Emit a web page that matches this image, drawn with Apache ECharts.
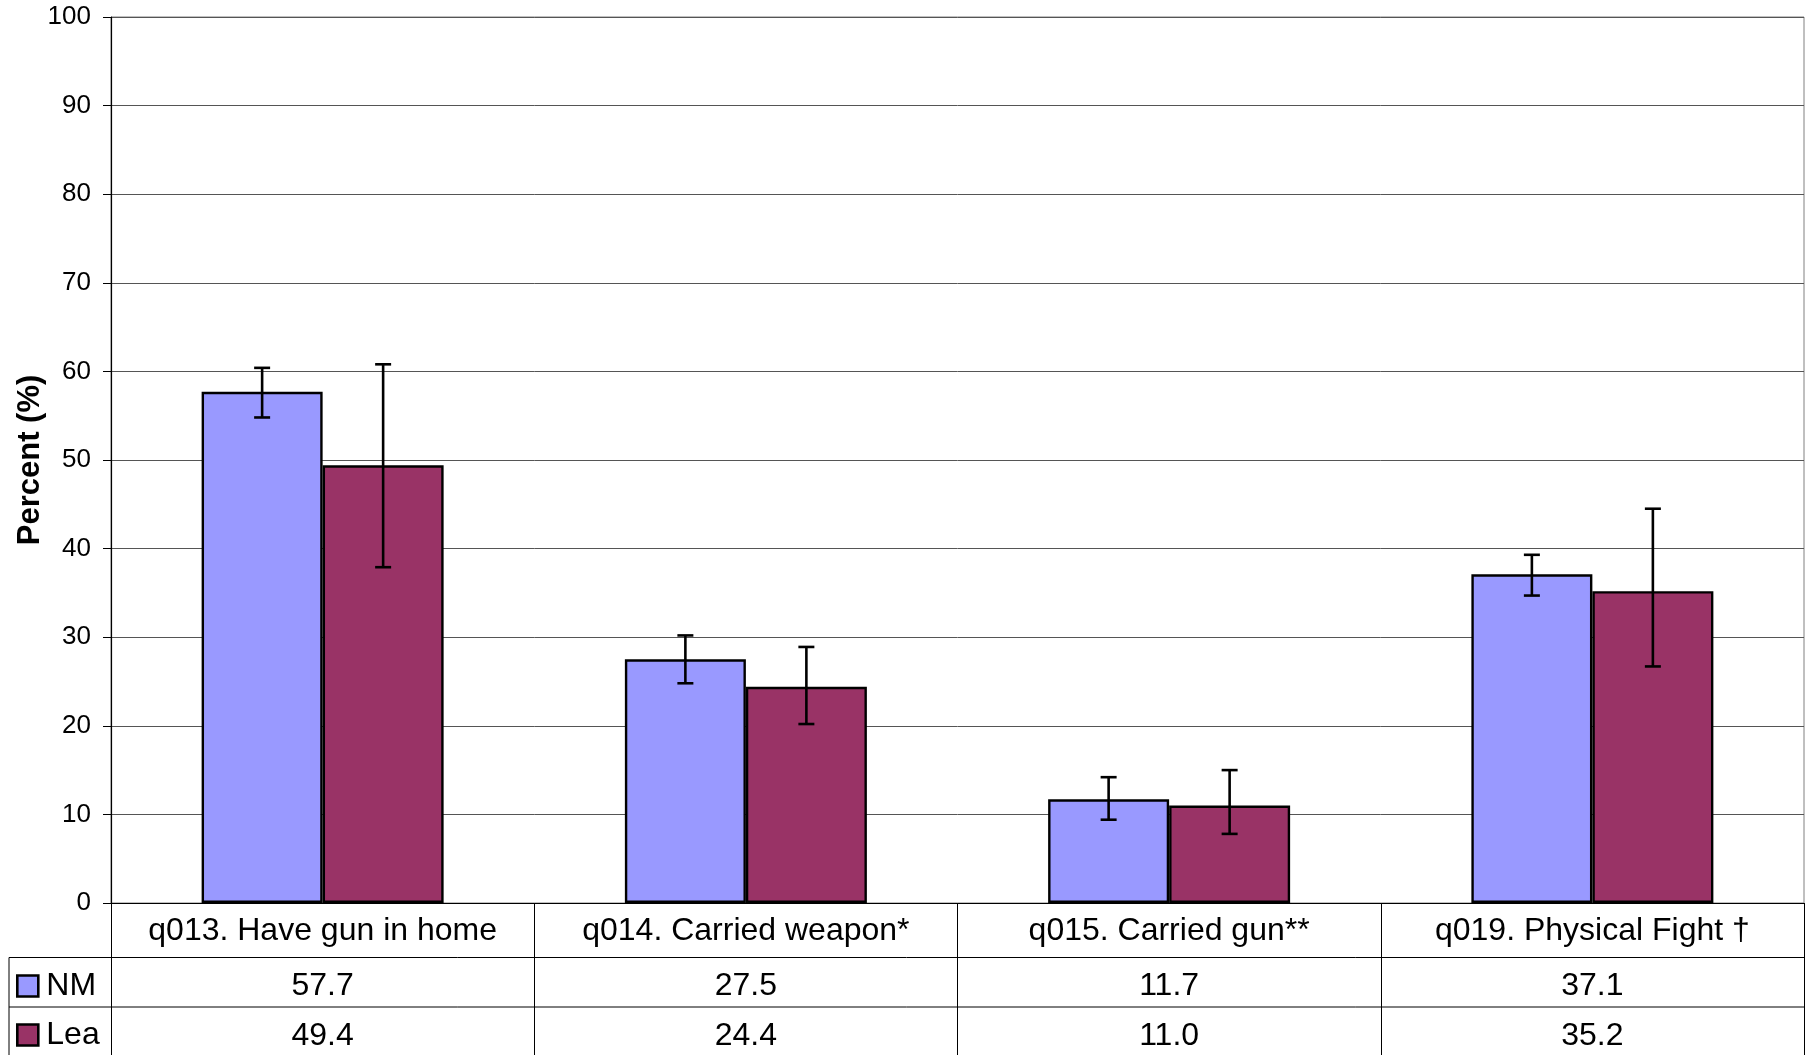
<!DOCTYPE html>
<html>
<head>
<meta charset="utf-8">
<script src="https://cdn.jsdelivr.net/npm/echarts@6/dist/echarts.min.js"></script>
<style>
html,body{margin:0;padding:0;background:#fff;}
#c{width:1811px;height:1055px;}
</style>
</head>
<body>
<div id="c"></div>
<script>
// ---- data ----
var categories = ['q013. Have gun in home', 'q014. Carried weapon*', 'q015. Carried gun**', 'q019. Physical Fight \u2020'];
var seriesNames = ['NM', 'Lea'];
var nmValues = [57.7, 27.5, 11.7, 37.1];
var leaValues = [49.4, 24.4, 11.0, 35.2];
var nmLow = [54.8, 24.8, 9.4, 34.7];
var nmHigh = [60.4, 30.2, 14.2, 39.3];
var leaLow = [37.9, 20.2, 7.8, 26.7];
var leaHigh = [60.8, 28.9, 15.0, 44.5];
var yTicks = [0, 10, 20, 30, 40, 50, 60, 70, 80, 90, 100];

// ---- layout / style ----
var FONT = "'Liberation Sans', Arial, sans-serif";
var W = 1811, H = 1055;
var G_LEFT = 111, G_RIGHT = 7, G_TOP = 17, G_BOTTOM = 152;
var BAR_W = 121;
var NM_COLOR = '#9999FF', LEA_COLOR = '#993366';
var ROW1_Y = 957.5, ROW2_Y = 1007, TABLE_LEFT = 9;
var TABLE_FONT = 32;

var chart = echarts.init(document.getElementById('c'), null, {renderer: 'canvas'});

function errRender(sign) {
  return function (params, api) {
    var idx = api.value(0);
    var lo = api.coord([idx, api.value(1)]);
    var hi = api.coord([idx, api.value(2)]);
    var x = lo[0] + sign * BAR_W / 2;
    var cap = 8;
    var st = {stroke: '#000', lineWidth: 2.6};
    return {
      type: 'group',
      children: [
        {type: 'line', shape: {x1: x, y1: lo[1], x2: x, y2: hi[1]}, style: st},
        {type: 'line', shape: {x1: x - cap, y1: lo[1], x2: x + cap, y2: lo[1]}, style: st},
        {type: 'line', shape: {x1: x - cap, y1: hi[1], x2: x + cap, y2: hi[1]}, style: st}
      ]
    };
  };
}

function errData(low, high) {
  return low.map(function (v, i) { return [i, v, high[i]]; });
}

function legendFor(name, top) {
  return {
    data: [name], orient: 'vertical', left: 16, top: top, padding: 0,
    itemWidth: 21, itemHeight: 21, itemGap: 6, icon: 'rect',
    itemStyle: {borderColor: '#000', borderWidth: 2.6},
    textStyle: {fontFamily: FONT, fontSize: 32, color: '#000', padding: [0, 0, 0, 3]},
    selectedMode: false
  };
}

var option = {
  backgroundColor: '#fff',
  animation: false,
  textStyle: {fontFamily: FONT, color: '#000'},
  grid: {
    left: G_LEFT, right: G_RIGHT, top: G_TOP, bottom: G_BOTTOM,
    outerBoundsMode: 'none', containLabel: false,
    show: true, borderColor: '#808080', borderWidth: 1, backgroundColor: '#fff'
  },
  legend: [legendFor(seriesNames[0], 970), legendFor(seriesNames[1], 1019)],
  xAxis: {
    type: 'category',
    data: categories,
    boundaryGap: true,
    axisLine: {show: true, lineStyle: {color: '#000', width: 1.2}},
    axisTick: {show: true, interval: 0, length: G_BOTTOM, lineStyle: {color: '#000', width: 1}},
    axisLabel: {
      interval: 0,
      margin: 1,
      color: '#000',
      fontFamily: FONT,
      hideOverlap: false,
      formatter: function (val, idx) {
        return '{c|' + val + '}\n{v1|' + nmValues[idx].toFixed(1) + '}\n{v2|' + leaValues[idx].toFixed(1) + '}';
      },
      rich: {
        c: {fontSize: TABLE_FONT, lineHeight: 54, fontFamily: FONT, color: '#000'},
        v1: {fontSize: TABLE_FONT, lineHeight: 56, fontFamily: FONT, color: '#000'},
        v2: {fontSize: TABLE_FONT, lineHeight: 44, fontFamily: FONT, color: '#000'}
      }
    },
    splitLine: {show: false}
  },
  yAxis: {
    type: 'value',
    min: yTicks[0], max: yTicks[yTicks.length - 1], interval: yTicks[1] - yTicks[0],
    name: 'Percent (%)',
    nameLocation: 'middle',
    nameGap: 65,
    nameMoveOverlap: false,
    nameTextStyle: {fontFamily: FONT, fontSize: 31, fontWeight: 'bold', color: '#000'},
    axisLine: {show: true, lineStyle: {color: '#000', width: 1.2}},
    axisTick: {show: true, length: 8, lineStyle: {color: '#000'}},
    axisLabel: {fontSize: 26, color: '#000', margin: 20, fontFamily: FONT},
    splitLine: {show: true, lineStyle: {color: '#555', width: 1}}
  },
  series: [
    {
      name: seriesNames[0], type: 'bar', data: nmValues, barWidth: BAR_W, barGap: '0%',
      itemStyle: {color: NM_COLOR, borderColor: '#000', borderWidth: 2.4},
      z: 2
    },
    {
      name: seriesNames[1], type: 'bar', data: leaValues, barWidth: BAR_W, barGap: '0%',
      itemStyle: {color: LEA_COLOR, borderColor: '#000', borderWidth: 2.4},
      z: 2
    },
    {
      name: 'NM error', type: 'custom', renderItem: errRender(-1),
      data: errData(nmLow, nmHigh), encode: {x: 0, y: [1, 2]}, z: 5, silent: true
    },
    {
      name: 'Lea error', type: 'custom', renderItem: errRender(1),
      data: errData(leaLow, leaHigh), encode: {x: 0, y: [1, 2]}, z: 5, silent: true
    }
  ],
  graphic: [
    {type: 'line', shape: {x1: TABLE_LEFT, y1: ROW1_Y, x2: W - G_RIGHT, y2: ROW1_Y}, style: {stroke: '#000', lineWidth: 1}, silent: true},
    {type: 'line', shape: {x1: TABLE_LEFT, y1: ROW2_Y, x2: W - G_RIGHT, y2: ROW2_Y}, style: {stroke: '#000', lineWidth: 1}, silent: true},
    {type: 'line', shape: {x1: TABLE_LEFT, y1: ROW1_Y, x2: TABLE_LEFT, y2: H}, style: {stroke: '#000', lineWidth: 1}, silent: true}
  ]
};
chart.setOption(option);
</script>
</body>
</html>
